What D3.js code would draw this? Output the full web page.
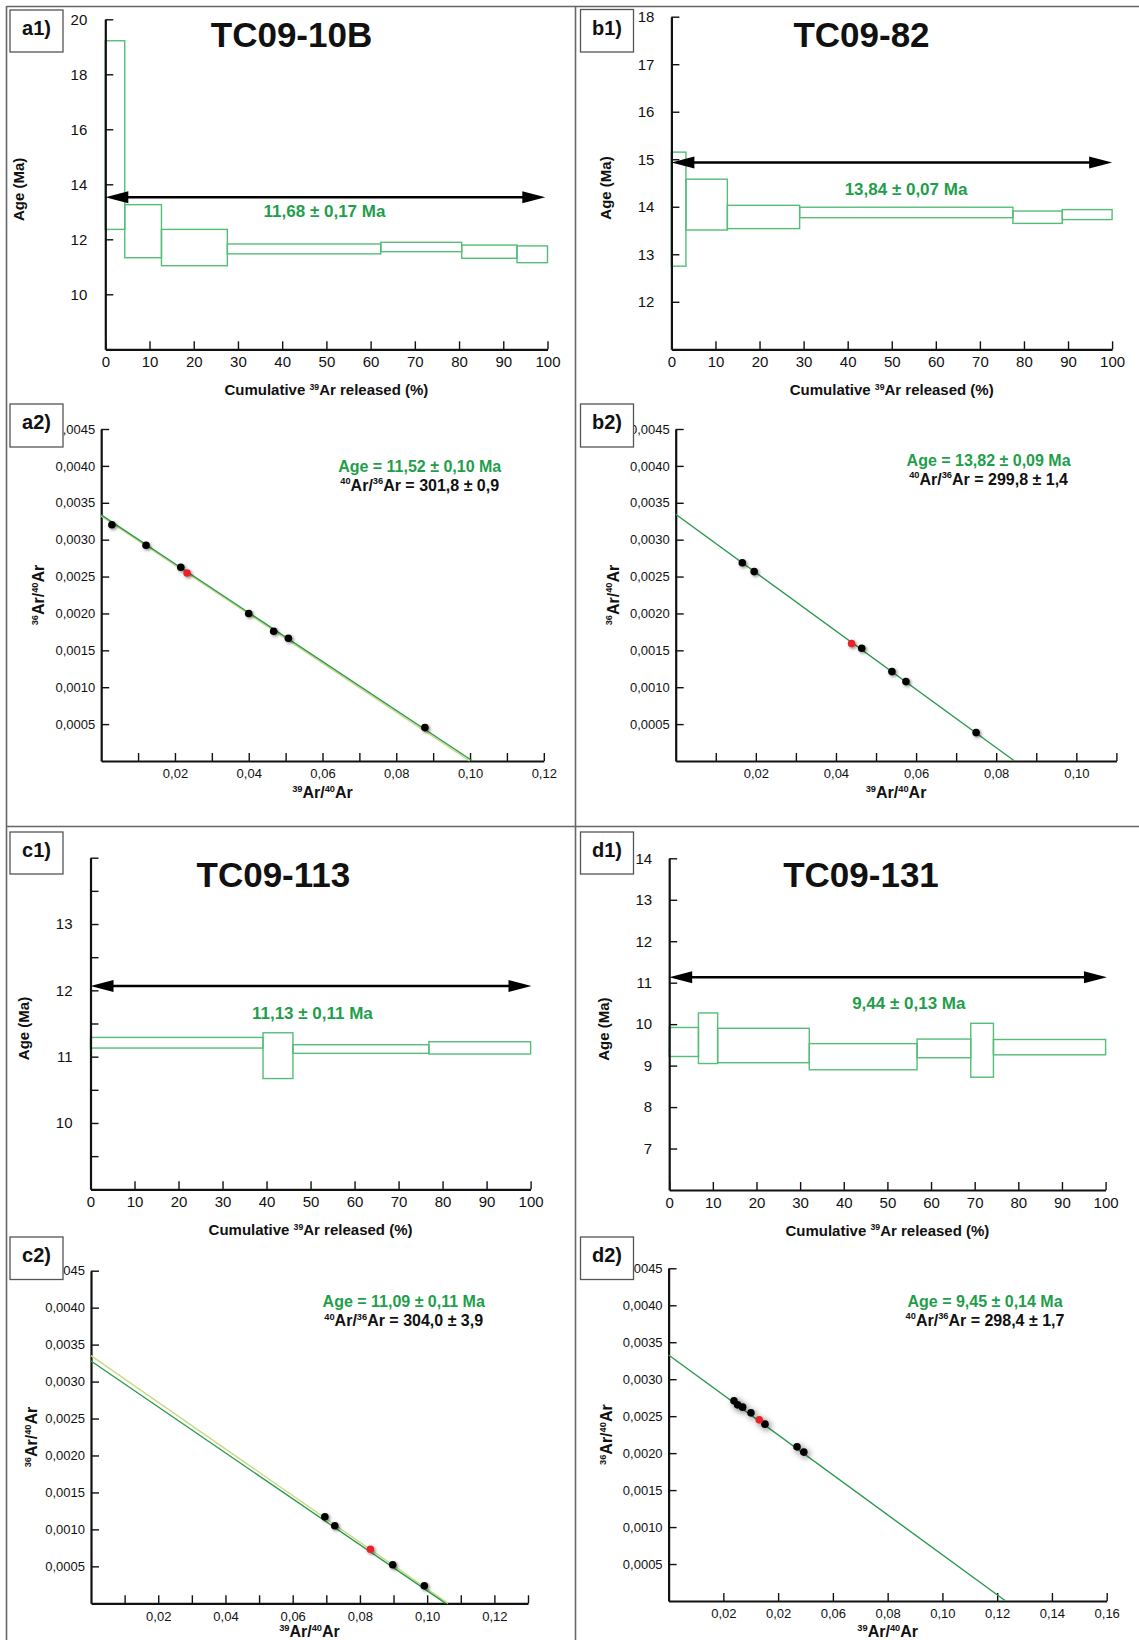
<!DOCTYPE html>
<html>
<head>
<meta charset="utf-8">
<script src="https://cdn.jsdelivr.net/npm/d3@7"></script>
<style>
  html, body { margin: 0; padding: 0; background: #fff; }
  svg { display: block; }
</style>
</head>
<body>
<svg id="chart" width="1139" height="1640"></svg>
<script>
// ---------------- DATA ----------------
// a1) TC09-10B age spectrum
const a1Cumulative = [0, 4.4, 12.7, 27.6, 62.3, 80.6, 93.1, 100];
const a1AgeHigh = [19.22, 13.26, 12.36, 11.83, 11.89, 11.79, 11.76];
const a1AgeLow  = [12.36, 11.33, 11.04, 11.47, 11.55, 11.31, 11.15];
const a1ArrowAge = 13.53;
const a1Plateau = "11,68 ± 0,17 Ma";
const a1YTicks = [10, 12, 14, 16, 18, 20];

// b1) TC09-82 age spectrum
const b1Cumulative = [0, 3.3, 12.7, 29.1, 77.5, 88.7, 100];
const b1AgeHigh = [15.15, 14.58, 14.03, 13.99, 13.91, 13.94];
const b1AgeLow  = [12.75, 13.51, 13.54, 13.77, 13.65, 13.73];
const b1ArrowAge = 14.93;
const b1Plateau = "13,84 ± 0,07 Ma";
const b1YTicks = [12, 13, 14, 15, 16, 17, 18];

// c1) TC09-113 age spectrum
const c1Cumulative = [0, 39.2, 46.0, 76.9, 100];
const c1AgeHigh = [11.29, 11.36, 11.18, 11.225];
const c1AgeLow  = [11.13, 10.67, 11.05, 11.04];
const c1ArrowAge = 12.065;
const c1Plateau = "11,13 ± 0,11 Ma";
const c1YTicks = [9.5, 10, 10.5, 11, 11.5, 12, 12.5, 13, 13.5, 14];
const c1YLabels = [10, 11, 12, 13];

// d1) TC09-131 age spectrum
const d1Cumulative = [0, 6.7, 11.1, 32.1, 56.8, 69.1, 74.3, 100];
const d1AgeHigh = [9.92, 10.27, 9.90, 9.53, 9.64, 10.02, 9.63];
const d1AgeLow  = [9.22, 9.05, 9.07, 8.90, 9.19, 8.72, 9.26];
const d1ArrowAge = 11.13;
const d1Plateau = "9,44 ± 0,13 Ma";
const d1YTicks = [7, 8, 9, 10, 11, 12, 13, 14];

// a2) inverse isochron TC09-10B
const a2X = [0.0029, 0.01215, 0.02158, 0.02328, 0.0400, 0.04677, 0.05075, 0.08776];
const a2Y = [0.003203, 0.002924, 0.002626, 0.002549, 0.0020, 0.001759, 0.001664, 0.000453];
const a2Red = [false, false, false, true, false, false, false, false];
const a2Fit = [[0, 0.003335], [0.1007, 0]];
const a2Alt = [[0, 0.00332], [0.0999, 0]];
const a2Age = "Age = 11,52 ± 0,10 Ma";
const a2Ratio = "301,8 ± 0,9";

// b2) inverse isochron TC09-82
const b2X = [0.01662, 0.01958, 0.0439, 0.04643, 0.05397, 0.05747, 0.07498];
const b2Y = [0.002688, 0.002567, 0.001591, 0.001528, 0.001212, 0.001076, 0.000385];
const b2Red = [false, false, true, false, false, false, false];
const b2Fit = [[0, 0.003344], [0.08457, 0]];
const b2Age = "Age = 13,82 ± 0,09 Ma";
const b2Ratio = "299,8 ± 1,4";

// c2) inverse isochron TC09-113
const c2X = [0.06957, 0.07252, 0.08311, 0.08976, 0.09915];
const c2Y = [0.001171, 0.001049, 0.000730, 0.000522, 0.000238];
const c2Red = [false, false, true, false, false];
const c2Fit = [[0, 0.003278], [0.1055, 0]];
const c2Alt = [[0, 0.00335], [0.1062, 0]];
const c2Age = "Age = 11,09 ± 0,11 Ma";
const c2Ratio = "304,0 ± 3,9";

// d2) inverse isochron TC09-131
const d2X = [0.02388, 0.02522, 0.02704, 0.03007, 0.0331, 0.0352, 0.0469, 0.04938];
const d2Y = [0.002707, 0.002653, 0.002622, 0.002545, 0.00245, 0.002392, 0.002085, 0.002014];
const d2Red = [false, false, false, false, true, false, false, false];
const d2Fit = [[0, 0.003328], [0.1231, 0]];
const d2Age = "Age = 9,45 ± 0,14 Ma";
const d2Ratio = "298,4 ± 1,7";
const d2XTickValues = [0.02, 0.04, 0.06, 0.08, 0.10, 0.12, 0.14, 0.16];
const d2XTickLabels = ["0,02", "0,02", "0,06", "0,08", "0,10", "0,12", "0,14", "0,16"];

const isoYTicks = [0.0005, 0.0010, 0.0015, 0.0020, 0.0025, 0.0030, 0.0035, 0.0040, 0.0045];

// ---------------- STYLE ----------------
const FONT = "'Liberation Sans', Arial, Helvetica, sans-serif";
const BOX_GREEN = "#55bd78";
const TEXT_GREEN = "#1f9e4b";
const LINE_GREEN = "#2b9a4c";
const LINE_YELLOW = "#c9da82";
const FRAME = "#666";

const svg = d3.select("#chart");
svg.append("rect").attr("width", 1139).attr("height", 1640).attr("fill", "#fff");

const defs = svg.append("defs");
const f1 = defs.append("filter").attr("id", "shadow").attr("x", "-100%").attr("y", "-100%").attr("width", "300%").attr("height", "300%");
f1.append("feDropShadow").attr("dx", 1.5).attr("dy", 1.5).attr("stdDeviation", 1.4).attr("flood-color", "#000").attr("flood-opacity", 0.45);
const f2 = defs.append("filter").attr("id", "shadowBig").attr("x", "-200%").attr("y", "-200%").attr("width", "500%").attr("height", "500%");
f2.append("feDropShadow").attr("dx", 2).attr("dy", 2).attr("stdDeviation", 3).attr("flood-color", "#000").attr("flood-opacity", 0.55);

// Superscript-capable text helper
function richText(g, parts, size, opts) {
  const t = g.append("text")
    .attr("x", opts.x).attr("y", opts.y)
    .attr("text-anchor", opts.anchor || "middle")
    .attr("font-family", FONT)
    .attr("font-weight", opts.weight || "bold")
    .attr("font-size", size)
    .attr("fill", opts.fill || "#111");
  if (opts.rotate) t.attr("transform", `rotate(-90,${opts.x},${opts.y})`);
  const shift = size * 0.38;
  let raised = false;
  parts.forEach(([txt, sup]) => {
    const s = t.append("tspan").text(txt);
    if (sup) {
      s.attr("font-size", size * 0.58);
      s.attr("dy", raised ? 0 : -shift);
      raised = true;
    } else {
      if (raised) s.attr("dy", shift);
      raised = false;
    }
  });
  return t;
}

function styleAxis(g, fontSize) {
  g.attr("font-family", FONT).attr("font-size", fontSize);
  g.select(".domain").attr("stroke", "#111").attr("stroke-width", 2.2);
  g.selectAll(".tick line").attr("stroke", "#111").attr("stroke-width", 1.4);
  g.selectAll(".tick text").attr("fill", "#111");
}

// ---------------- STEP-HEATING SPECTRUM PANEL ----------------
function spectrumPanel(p) {
  const g = svg.append("g");
  const x = d3.scaleLinear().domain([0, 100]).range([p.left, p.right]);
  const y = d3.scaleLinear().domain(p.yDomain).range([p.bottom, p.top]);

  // title
  g.append("text").attr("x", p.titleX).attr("y", p.titleY)
    .attr("text-anchor", "middle").attr("font-family", FONT)
    .attr("font-weight", "bold").attr("font-size", 35).attr("fill", "#111")
    .text(p.title);

  // steps
  const steps = p.high.map((h, i) => ({ x0: p.cum[i], x1: p.cum[i + 1], hi: h, lo: p.low[i] }));
  g.append("g").selectAll("rect").data(steps).join("rect")
    .attr("x", d => x(d.x0)).attr("width", d => x(d.x1) - x(d.x0))
    .attr("y", d => y(d.hi)).attr("height", d => y(d.lo) - y(d.hi))
    .attr("fill", "none").attr("stroke", BOX_GREEN).attr("stroke-width", 1.4);

  // axes
  const xa = g.append("g").attr("transform", `translate(0,${p.bottom})`)
    .call(d3.axisBottom(x).tickValues(d3.range(0, 101, 10)).tickSizeInner(-8).tickSizeOuter(0).tickPadding(7));
  styleAxis(xa, 15);
  const labels = p.yLabels || p.yTicks;
  const ya = g.append("g").attr("transform", `translate(${p.left},0)`)
    .call(d3.axisLeft(y).tickValues(p.yTicks).tickSizeInner(-8).tickSizeOuter(0).tickPadding(p.yPad)
      .tickFormat(d => labels.includes(d) ? String(d) : ""));
  styleAxis(ya, 15);

  // plateau arrow
  const ay = y(p.arrowAge);
  const ax0 = x(p.arrowSpan[0]), ax1 = x(p.arrowSpan[1]);
  const aLen = 23, aHalf = 6;
  g.append("line").attr("x1", ax0 + aLen - 2).attr("x2", ax1 - aLen + 2).attr("y1", ay).attr("y2", ay)
    .attr("stroke", "#000").attr("stroke-width", 2.6);
  g.append("path").attr("d", `M${ax0},${ay} L${ax0 + aLen},${ay - aHalf} L${ax0 + aLen},${ay + aHalf} Z`).attr("fill", "#000");
  g.append("path").attr("d", `M${ax1},${ay} L${ax1 - aLen},${ay - aHalf} L${ax1 - aLen},${ay + aHalf} Z`).attr("fill", "#000");

  // plateau text
  g.append("text").attr("x", p.plateauX).attr("y", p.plateauY)
    .attr("text-anchor", "middle").attr("font-family", FONT).attr("font-weight", "bold")
    .attr("font-size", 17).attr("fill", TEXT_GREEN).text(p.plateau);

  // axis titles
  richText(g, [["Cumulative ", false], ["39", true], ["Ar released (%)", false]], 15,
    { x: (p.left + p.right) / 2, y: p.bottom + 46 });
  richText(g, [["Age (Ma)", false]], 15, { x: p.yTitleX, y: (p.top + p.bottom) / 2 + 5, rotate: true });
}

// ---------------- INVERSE ISOCHRON PANEL ----------------
function isochronPanel(p) {
  const g = svg.append("g");
  const x = d3.scaleLinear().domain([0, p.xMax]).range([p.left, p.right]);
  const y = d3.scaleLinear().domain([0, 0.0045]).range([p.bottom, p.top]);

  const xa = g.append("g").attr("transform", `translate(0,${p.bottom})`)
    .call(d3.axisBottom(x).tickValues(p.xTicks).tickSizeInner(-8).tickSizeOuter(0).tickPadding(8)
      .tickFormat(p.xFormat));
  styleAxis(xa, 13);
  const ya = g.append("g").attr("transform", `translate(${p.left},0)`)
    .call(d3.axisLeft(y).tickValues(isoYTicks).tickSizeInner(-8).tickSizeOuter(0).tickPadding(6)
      .tickFormat(d => d3.format(".4f")(d).replace(".", ",")));
  styleAxis(ya, 13);

  // fit lines
  const line = d3.line().x(d => x(d[0])).y(d => y(d[1]));
  if (p.alt) g.append("path").attr("d", line(p.alt)).attr("fill", "none").attr("stroke", LINE_YELLOW).attr("stroke-width", 1.4);
  g.append("path").attr("d", line(p.fit)).attr("fill", "none").attr("stroke", LINE_GREEN).attr("stroke-width", 1.4);

  // points
  const pts = p.xs.map((v, i) => ({ x: v, y: p.ys[i], red: p.red[i] }));
  const order = pts.filter(d => !d.red).concat(pts.filter(d => d.red));
  g.append("g").selectAll("circle").data(order).join("circle")
    .attr("cx", d => x(d.x)).attr("cy", d => y(d.y)).attr("r", 3.8)
    .attr("fill", d => d.red ? "#e8222b" : "#000")
    .attr("filter", p.bigShadow ? "url(#shadowBig)" : "url(#shadow)");

  // annotations
  g.append("text").attr("x", p.annX).attr("y", p.annY)
    .attr("text-anchor", "middle").attr("font-family", FONT).attr("font-weight", "bold")
    .attr("font-size", 16).attr("fill", TEXT_GREEN).text(p.age);
  richText(g, [["40", true], ["Ar/", false], ["36", true], ["Ar = " + p.ratio, false]], 16,
    { x: p.annX, y: p.annY + 19 });

  // axis titles
  richText(g, [["39", true], ["Ar/", false], ["40", true], ["Ar", false]], 16,
    { x: (p.left + p.right) / 2, y: Math.min(p.bottom + 37, 1637) });
  richText(g, [["36", true], ["Ar/", false], ["40", true], ["Ar", false]], 16,
    { x: p.yTitleX, y: (p.top + p.bottom) / 2, rotate: true });
}

const commaFmt = d => d3.format(".2f")(d).replace(".", ",");
const evenLabel = d => (Math.round(d * 100) % 2 === 0 && d > 0.001) ? commaFmt(d) : "";

// ---------------- FRAME ----------------
const frame = svg.append("g").attr("stroke", FRAME).attr("stroke-width", 1.6);
frame.append("line").attr("x1", 6.5).attr("x2", 1139).attr("y1", 6.5).attr("y2", 6.5);
frame.append("line").attr("x1", 6.5).attr("x2", 6.5).attr("y1", 6).attr("y2", 1640);
frame.append("line").attr("x1", 575.5).attr("x2", 575.5).attr("y1", 6).attr("y2", 1640);
frame.append("line").attr("x1", 6).attr("x2", 1139).attr("y1", 826.5).attr("y2", 826.5);

// ---------------- PANELS ----------------
spectrumPanel({ left: 105.3, right: 547.5, top: 19.3, bottom: 349.3, yDomain: [8, 20], yTicks: a1YTicks, yPad: 18,
  cum: a1Cumulative, high: a1AgeHigh, low: a1AgeLow, arrowAge: a1ArrowAge, arrowSpan: [0, 99.5],
  plateau: a1Plateau, plateauX: 324.5, plateauY: 216.5, title: "TC09-10B", titleX: 291.5, titleY: 46.5, yTitleX: 24 });

spectrumPanel({ left: 671.4, right: 1112.1, top: 16.7, bottom: 349.3, yDomain: [11, 18], yTicks: b1YTicks, yPad: 17,
  cum: b1Cumulative, high: b1AgeHigh, low: b1AgeLow, arrowAge: b1ArrowAge, arrowSpan: [0, 100],
  plateau: b1Plateau, plateauX: 906, plateauY: 194.5, title: "TC09-82", titleX: 861.5, titleY: 46.5, yTitleX: 611 });

spectrumPanel({ left: 90.5, right: 530.6, top: 857.7, bottom: 1189.3, yDomain: [9, 14], yTicks: c1YTicks, yLabels: c1YLabels, yPad: 18,
  cum: c1Cumulative, high: c1AgeHigh, low: c1AgeLow, arrowAge: c1ArrowAge, arrowSpan: [0, 100.2],
  plateau: c1Plateau, plateauX: 312.4, plateauY: 1018.5, title: "TC09-113", titleX: 273.4, titleY: 887, yTitleX: 29 });

spectrumPanel({ left: 669.2, right: 1105.6, top: 858.3, bottom: 1190, yDomain: [6, 14], yTicks: d1YTicks, yPad: 17,
  cum: d1Cumulative, high: d1AgeHigh, low: d1AgeLow, arrowAge: d1ArrowAge, arrowSpan: [0, 100.3],
  plateau: d1Plateau, plateauX: 908.8, plateauY: 1009, title: "TC09-131", titleX: 861, titleY: 887, yTitleX: 609 });

isochronPanel({ left: 101.2, right: 543.8, top: 429, bottom: 761, xMax: 0.12,
  xTicks: d3.range(1, 13).map(i => i / 100), xFormat: evenLabel,
  xs: a2X, ys: a2Y, red: a2Red, fit: a2Fit, alt: a2Alt, age: a2Age, ratio: a2Ratio,
  annX: 419.7, annY: 471.5, yTitleX: 44 });

isochronPanel({ left: 675.7, right: 1116.4, top: 429, bottom: 761, xMax: 0.11,
  xTicks: d3.range(1, 12).map(i => i / 100), xFormat: evenLabel,
  xs: b2X, ys: b2Y, red: b2Red, fit: b2Fit, age: b2Age, ratio: b2Ratio,
  annX: 988.6, annY: 465.5, yTitleX: 618.5 });

isochronPanel({ left: 91, right: 528, top: 1270.7, bottom: 1603.3, xMax: 0.13,
  xTicks: d3.range(1, 14).map(i => i / 100), xFormat: evenLabel,
  xs: c2X, ys: c2Y, red: c2Red, fit: c2Fit, alt: c2Alt, age: c2Age, ratio: c2Ratio,
  annX: 403.7, annY: 1306.7, yTitleX: 37 });

isochronPanel({ left: 668.6, right: 1106.7, top: 1268.3, bottom: 1601, xMax: 0.16,
  xTicks: d2XTickValues, xFormat: (d, i) => d2XTickLabels[i],
  xs: d2X, ys: d2Y, red: d2Red, fit: d2Fit, age: d2Age, ratio: d2Ratio, bigShadow: true,
  annX: 985, annY: 1306.5, yTitleX: 612 });

// ---------------- PANEL LABEL BOXES ----------------
const panelLabels = ["a1)", "b1)", "a2)", "b2)", "c1)", "d1)", "c2)", "d2)"];
const boxes = [[10, 10, 53, 42], [580.5, 9.5, 53, 42.5], [10, 404, 53, 43], [580.5, 404, 53, 43],
               [10, 832, 53, 42], [580.5, 832, 53, 42], [10, 1237, 53, 42.5], [580.5, 1237, 53, 42.5]];
const lab = svg.append("g");
panelLabels.forEach((t, i) => {
  const [bx, by, bw, bh] = boxes[i];
  lab.append("rect").attr("x", bx).attr("y", by).attr("width", bw).attr("height", bh)
    .attr("fill", "#fff").attr("stroke", "#555").attr("stroke-width", 1.3);
  lab.append("text").attr("x", bx + bw / 2).attr("y", by + 25)
    .attr("text-anchor", "middle").attr("font-family", FONT).attr("font-weight", "bold")
    .attr("font-size", 20).attr("fill", "#111").text(t);
});
</script>
</body>
</html>
